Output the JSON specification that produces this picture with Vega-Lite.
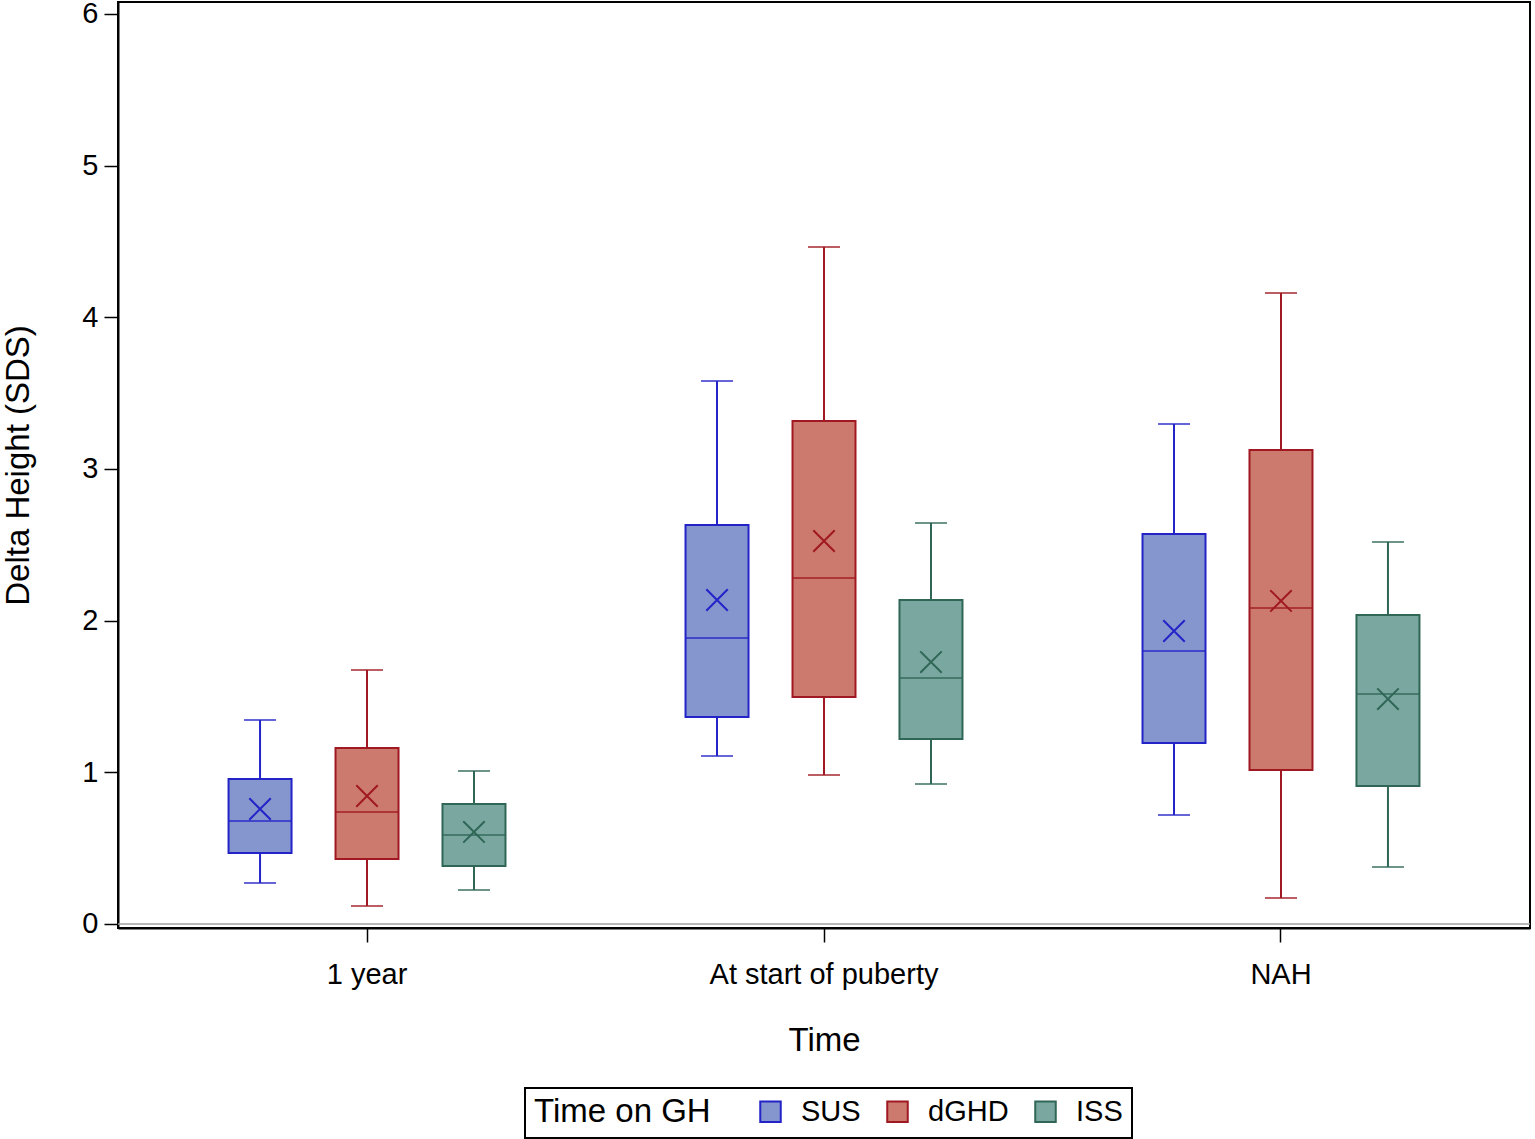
{
  "$schema": "https://vega.github.io/schema/vega-lite/v6.json",
  "autosize": {"type": "none"},
  "padding": {"left": 118, "top": 2, "right": 5, "bottom": 211},
  "width": 1412,
  "height": 926,
  "background": "white",
  "config": {
    "font": "Liberation Sans",
    "view": {"stroke": "black", "strokeWidth": 2},
    "axis": {"grid": false, "domainColor": "black", "domainWidth": 2, "tickColor": "black", "tickWidth": 1.5, "labelColor": "black", "titleColor": "black", "titleFontWeight": "normal", "labelLimit": 500},
    "legend": {
      "orient": "none", "legendX": 407, "legendY": 1086, "direction": "horizontal",
      "titleOrient": "left", "titleFontSize": 33, "titleFontWeight": "normal", "titleColor": "black", "titleBaseline": "middle", "titlePadding": 45,
      "labelFontSize": 29, "labelColor": "black", "labelOffset": 16, "columnPadding": 22,
      "symbolType": "square", "symbolSize": 420, "symbolStrokeWidth": 2, "symbolOpacity": 1,
      "padding": 9, "strokeColor": "black", "strokeWidth": 2, "fillColor": "white"
    }
  },
  "data": {"values": [
    {"time": "1 year", "group": "SUS", "low": 0.27, "q1": 0.468, "median": 0.679, "q3": 0.956, "high": 1.345, "mean": 0.758},
    {"time": "1 year", "group": "dGHD", "low": 0.119, "q1": 0.429, "median": 0.738, "q3": 1.16, "high": 1.675, "mean": 0.844},
    {"time": "1 year", "group": "ISS", "low": 0.224, "q1": 0.382, "median": 0.587, "q3": 0.791, "high": 1.009, "mean": 0.607},
    {"time": "At start of puberty", "group": "SUS", "low": 1.108, "q1": 1.365, "median": 1.886, "q3": 2.63, "high": 3.58, "mean": 2.136},
    {"time": "At start of puberty", "group": "dGHD", "low": 0.982, "q1": 1.497, "median": 2.281, "q3": 3.316, "high": 4.464, "mean": 2.525},
    {"time": "At start of puberty", "group": "ISS", "low": 0.923, "q1": 1.22, "median": 1.622, "q3": 2.136, "high": 2.644, "mean": 1.727},
    {"time": "NAH", "group": "SUS", "low": 0.719, "q1": 1.193, "median": 1.8, "q3": 2.571, "high": 3.297, "mean": 1.932},
    {"time": "NAH", "group": "dGHD", "low": 0.171, "q1": 1.015, "median": 2.083, "q3": 3.125, "high": 4.16, "mean": 2.13},
    {"time": "NAH", "group": "ISS", "low": 0.376, "q1": 0.91, "median": 1.516, "q3": 2.037, "high": 2.519, "mean": 1.483}
  ]},
  "encoding": {
    "x": {
      "field": "time", "type": "nominal", "sort": ["1 year", "At start of puberty", "NAH"],
      "scale": {"paddingInner": 0, "paddingOuter": 0.0449},
      "axis": {"title": "Time", "labelAngle": 0, "labelFontSize": 29, "tickSize": 14, "labelPadding": 18, "titleFontSize": 33, "titleY": 112, "titleBaseline": "middle"}
    },
    "xOffset": {
      "field": "group", "type": "nominal",
      "scale": {"domain": ["SUS", "dGHD", "ISS"], "paddingInner": 0, "paddingOuter": 0.636}
    }
  },
  "layer": [
    {
      "data": {"values": [{"z": 0}]},
      "mark": {"type": "rule", "color": "#a0a0a0", "strokeWidth": 1.5},
      "encoding": {"y": {"field": "z", "type": "quantitative"}, "x": null, "xOffset": null}
    },
    {
      "mark": {"type": "rule", "strokeWidth": 2},
      "encoding": {
        "y": {"field": "low", "type": "quantitative",
          "scale": {"domain": [-0.0264, 6.079], "nice": false, "zero": false},
          "axis": {"title": "Delta Height (SDS)", "values": [0, 1, 2, 3, 4, 5, 6], "format": "d", "labelFontSize": 29, "tickSize": 14, "labelPadding": 6, "titleFontSize": 33, "titleX": -100, "titleY": 463, "titleBaseline": "middle", "titleAnchor": "middle"}},
        "y2": {"field": "q1"},
        "stroke": {"field": "group", "type": "nominal", "scale": {"domain": ["SUS", "dGHD", "ISS"], "range": ["#2323c8", "#a01822", "#2f6656"]}, "title": "Time on GH"}
      }
    },
    {
      "mark": {"type": "rule", "strokeWidth": 2},
      "encoding": {
        "y": {"field": "q3", "type": "quantitative"},
        "y2": {"field": "high"},
        "stroke": {"field": "group", "type": "nominal", "title": "Time on GH"}
      }
    },
    {
      "mark": {"type": "tick", "filled": false, "thickness": 0, "size": 32, "strokeWidth": 2},
      "encoding": {
        "y": {"field": "low", "type": "quantitative"},
        "stroke": {"field": "group", "type": "nominal", "title": "Time on GH"}
      }
    },
    {
      "mark": {"type": "tick", "filled": false, "thickness": 0, "size": 32, "strokeWidth": 2},
      "encoding": {
        "y": {"field": "high", "type": "quantitative"},
        "stroke": {"field": "group", "type": "nominal", "title": "Time on GH"}
      }
    },
    {
      "mark": {"type": "bar", "width": 63, "strokeWidth": 2, "opacity": 1},
      "encoding": {
        "y": {"field": "q1", "type": "quantitative"},
        "y2": {"field": "q3"},
        "fill": {"field": "group", "type": "nominal", "scale": {"domain": ["SUS", "dGHD", "ISS"], "range": ["#8496cd", "#cc7a6d", "#7aa8a0"]}, "title": "Time on GH"},
        "stroke": {"field": "group", "type": "nominal", "title": "Time on GH"}
      }
    },
    {
      "mark": {"type": "tick", "filled": false, "thickness": 0, "size": 63, "strokeWidth": 2},
      "encoding": {
        "y": {"field": "median", "type": "quantitative"},
        "stroke": {"field": "group", "type": "nominal", "title": "Time on GH"}
      }
    },
    {
      "mark": {"type": "point", "filled": false, "shape": "M-1,-1L1,1M-1,1L1,-1", "size": 460, "strokeWidth": 2, "opacity": 1},
      "encoding": {
        "y": {"field": "mean", "type": "quantitative"},
        "stroke": {"field": "group", "type": "nominal", "title": "Time on GH"}
      }
    }
  ]
}
